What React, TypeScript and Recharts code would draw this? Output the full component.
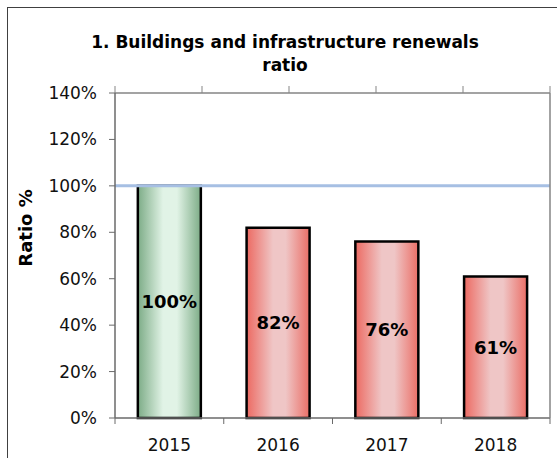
import React from 'react';
import { ComposedChart, Bar, Line, XAxis, YAxis, Cell, LabelList, Label } from 'recharts';

const years = ['2015', '2016', '2017', '2018'];
const ratios = [100, 82, 76, 61];
const yTicks = [0, 20, 40, 60, 80, 100, 120, 140];
const targetRatio = 100;
const topTicks = [0, 1, 2, 3, 4, 5];
const targetLine = [
  { pos: 0, target: targetRatio },
  { pos: 5, target: targetRatio },
];

const data = years.map((y, i) => ({ year: y, ratio: ratios[i] }));

const FONT = '"DejaVu Sans", Verdana, sans-serif';
const AXIS = '#858585';
const AXIS_DARK = '#6a6a6a';

const YearTick = (props: any) => {
  const { x, y, payload, visibleTicksCount } = props;
  const off = payload && typeof payload.offset === 'number' ? payload.offset : 0;
  const isLast = payload.index === visibleTicksCount - 1;
  return (
    <g>
      <line x1={x - off} y1={y} x2={x - off} y2={y + 6} stroke={AXIS_DARK} strokeWidth={1} />
      {isLast && <line x1={x + off} y1={y} x2={x + off} y2={y + 6} stroke={AXIS_DARK} strokeWidth={1} />}
      <text x={x} y={y + 27} textAnchor="middle" dominantBaseline="central" fontSize={17} fontFamily={FONT} fill="#111">
        {payload.value}
      </text>
    </g>
  );
};

export default function App() {
  return (
    <div style={{ position: 'absolute', left: 0, top: 0, width: 557, height: 458, overflow: 'hidden', background: '#fff', fontFamily: FONT }}>
      <div style={{ position: 'absolute', left: 7, top: 7, width: 700, height: 700, borderLeft: '1px solid #404040', borderTop: '1px solid #404040' }} />
      <div style={{ position: 'absolute', left: 87, top: 31, width: 396, textAlign: 'center', fontWeight: 'bold', fontSize: 17, lineHeight: '23px', color: '#000' }}>
        1. Buildings and infrastructure renewals<br />ratio
      </div>
      <div style={{ position: 'absolute', left: 0, top: 0 }}>
        <ComposedChart width={557} height={458} data={data} margin={{ top: 85, right: 6, bottom: 0, left: 0 }} barCategoryGap="21%">
          <defs>
            <linearGradient id="gGreen" x1="0" y1="0" x2="1" y2="0">
              <stop offset="0" stopColor="#7dac87" />
              <stop offset="0.4" stopColor="#e1f3e6" />
              <stop offset="0.62" stopColor="#e1f3e6" />
              <stop offset="1" stopColor="#7dac87" />
            </linearGradient>
            <linearGradient id="gRed" x1="0" y1="0" x2="1" y2="0">
              <stop offset="0" stopColor="#ec6a62" />
              <stop offset="0.42" stopColor="#efc6c6" />
              <stop offset="0.62" stopColor="#efc6c6" />
              <stop offset="1" stopColor="#ea6e66" />
            </linearGradient>
          </defs>
          <XAxis
            xAxisId="top"
            orientation="top"
            type="number"
            dataKey="pos"
            domain={[0, 5]}
            ticks={topTicks}
            interval={0}
            height={8}
            tickSize={7}
            tickFormatter={() => ''}
            axisLine={{ stroke: AXIS, strokeWidth: 1.5 }}
            tickLine={{ stroke: AXIS, strokeWidth: 1 }}
          />
          <XAxis
            dataKey="year"
            height={40}
            interval={0}
            axisLine={{ stroke: AXIS_DARK, strokeWidth: 1.5 }}
            tickLine={false}
            tickSize={0}
            tickMargin={0}
            tick={<YearTick />}
          />
          <YAxis
            domain={[0, 140]}
            ticks={yTicks}
            width={115}
            tickSize={6}
            tickMargin={12}
            tickFormatter={(v) => v + '%'}
            tick={{ fill: '#111', fontSize: 17, fontFamily: FONT }}
            axisLine={{ stroke: AXIS_DARK, strokeWidth: 1.5 }}
            tickLine={{ stroke: AXIS_DARK, strokeWidth: 1 }}
          >
            <Label
              content={() => (
                <text x={25} y={228} transform="rotate(-90, 25, 228)" textAnchor="middle" dominantBaseline="central" fontWeight="bold" fontSize={18} fontFamily={FONT} fill="#000">
                  Ratio %
                </text>
              )}
            />
          </YAxis>
          <YAxis
            yAxisId="right"
            orientation="right"
            width={1}
            domain={[0, 140]}
            tick={false}
            tickLine={false}
            axisLine={{ stroke: AXIS, strokeWidth: 1.5 }}
          />
          <Line
            data={targetLine}
            xAxisId="top"
            dataKey="target"
            stroke="#a6bfe3"
            strokeWidth={3}
            dot={false}
            activeDot={false}
            isAnimationActive={false}
          />
          <Bar dataKey="ratio" stroke="#000" strokeWidth={2.5} isAnimationActive={false}>
            {data.map((d) => (
              <Cell key={d.year} fill={d.ratio >= targetRatio ? 'url(#gGreen)' : 'url(#gRed)'} />
            ))}
            <LabelList
              dataKey="ratio"
              position="center"
              formatter={(v: number) => v + '%'}
              style={{ fontWeight: 'bold', fontSize: 18, fill: '#000', fontFamily: FONT }}
            />
          </Bar>
        </ComposedChart>
      </div>
    </div>
  );
}
